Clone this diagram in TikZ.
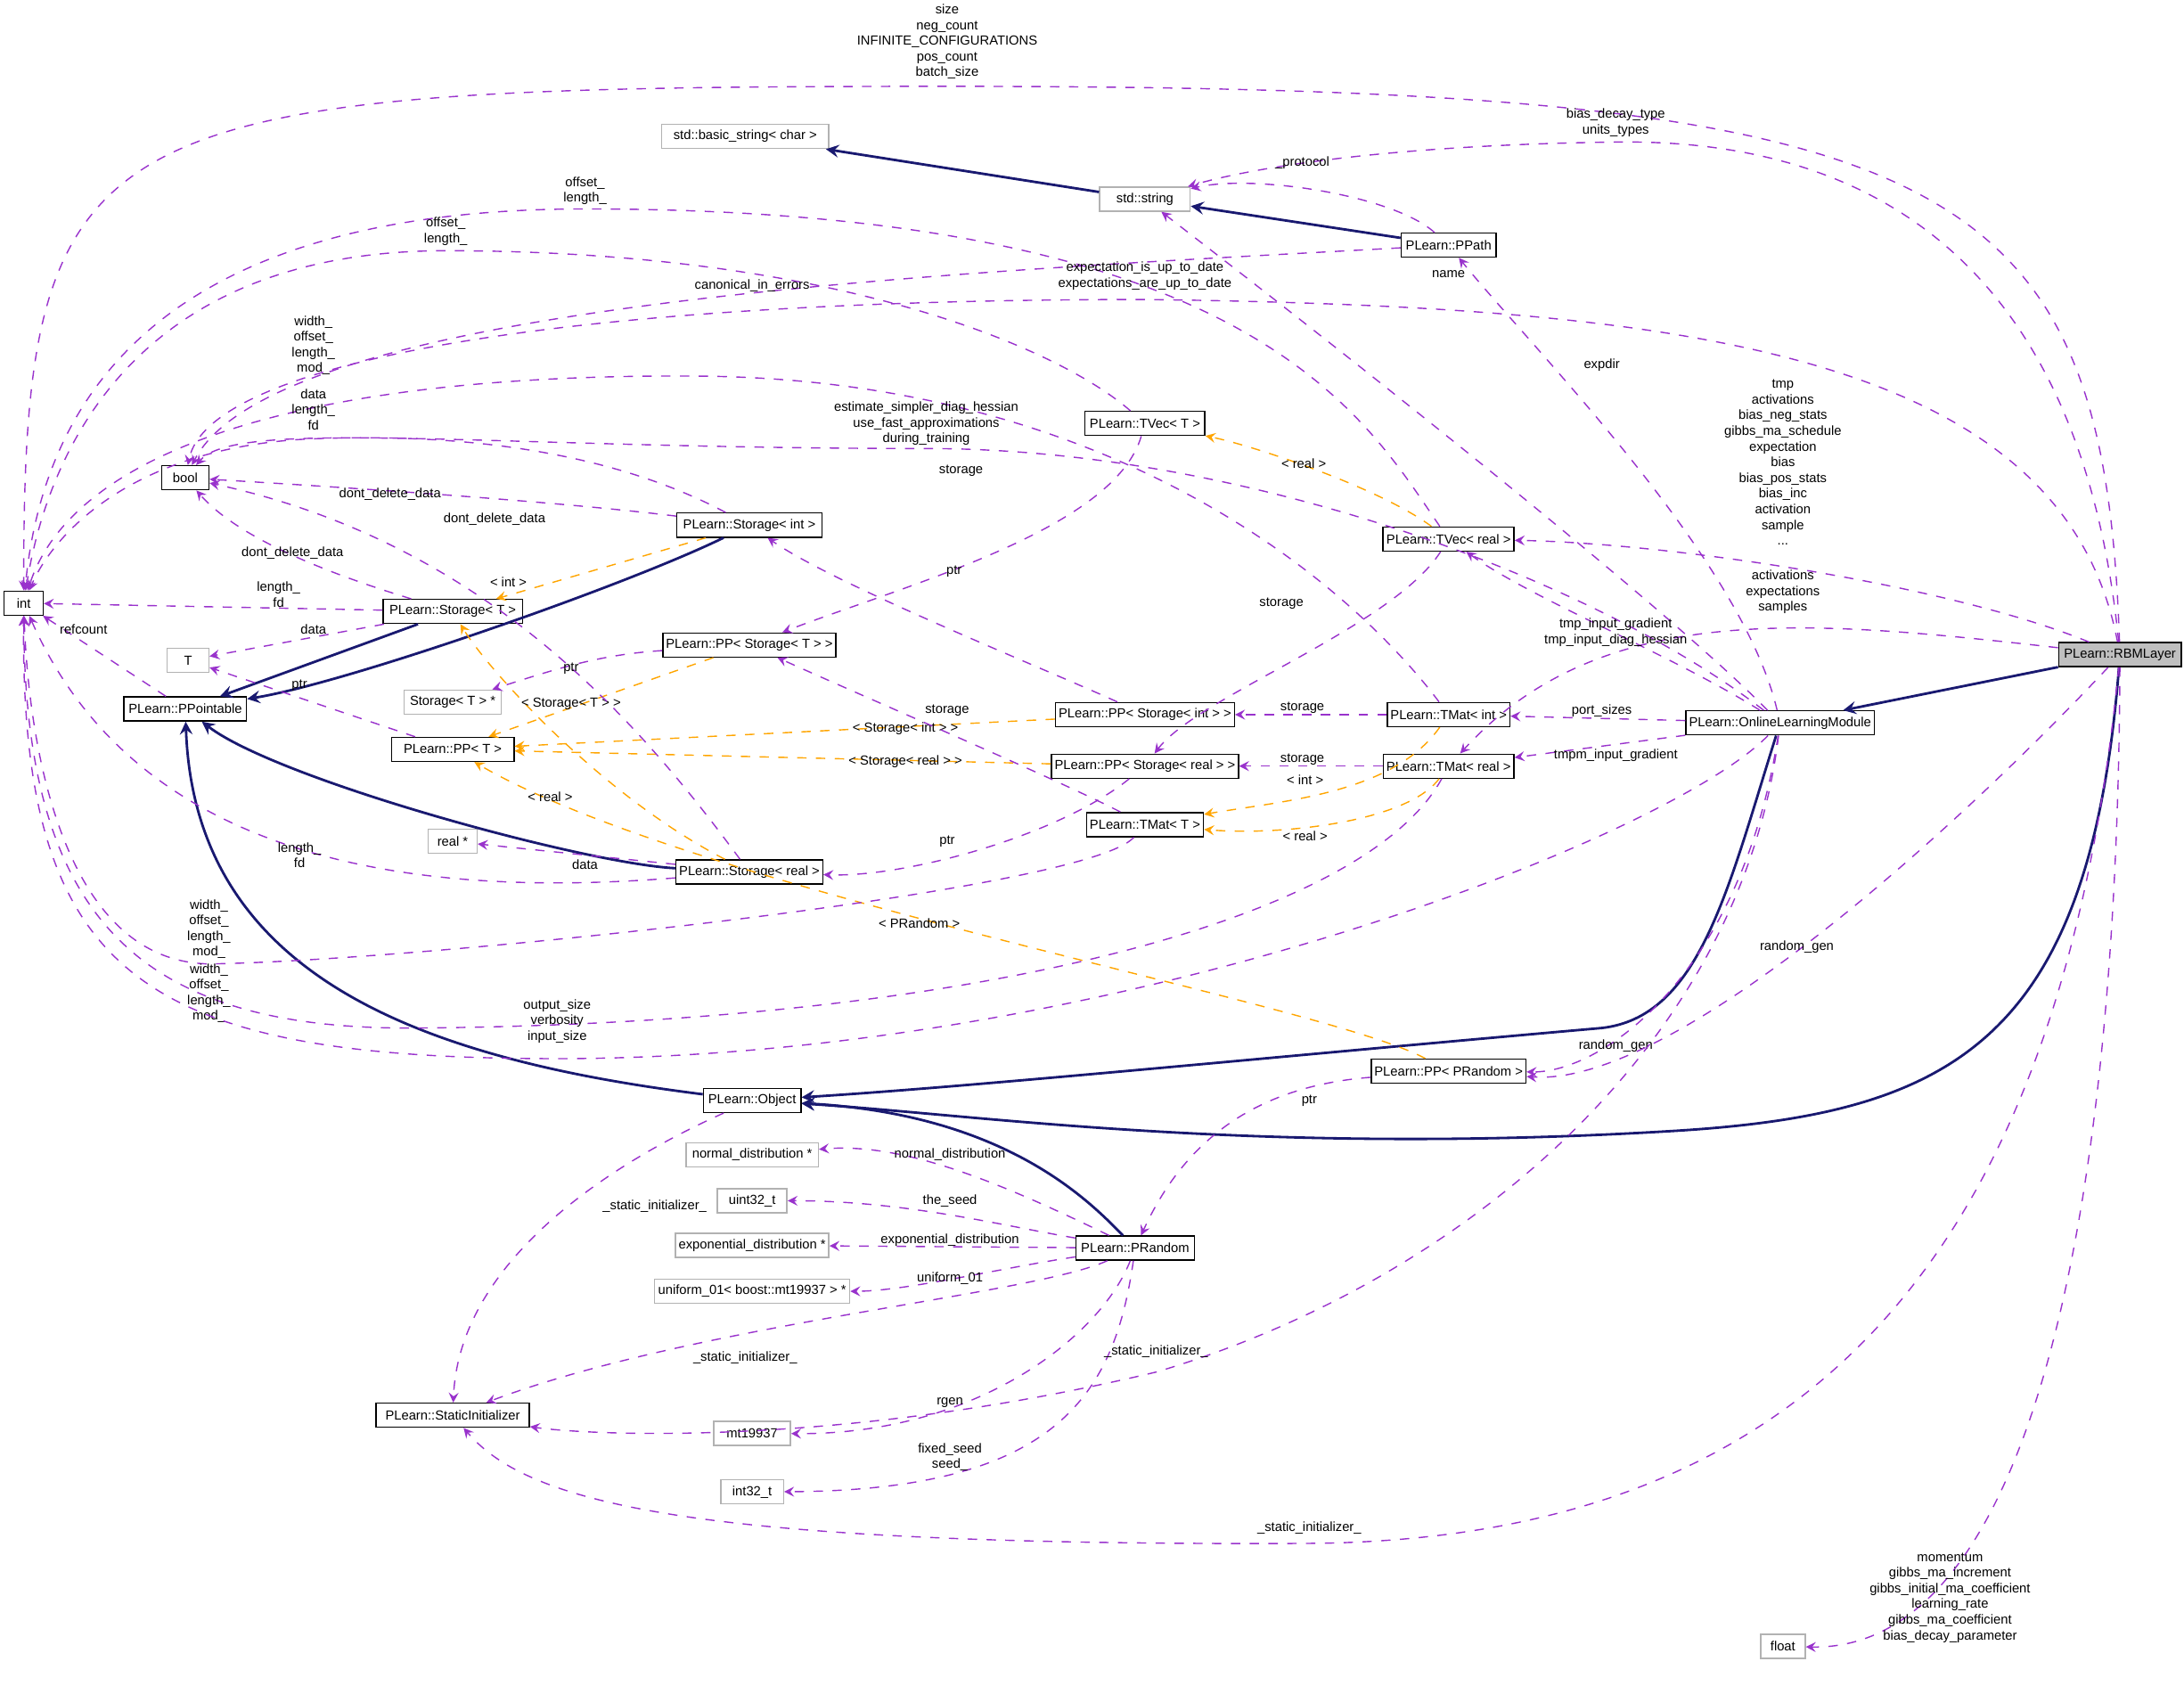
\documentclass[tikz,border=0pt]{standalone}
\usepackage{fontspec}
\setmainfont{Liberation Sans}
\usetikzlibrary{arrows}
\definecolor{inhcol}{RGB}{25,25,112}
\definecolor{usecol}{RGB}{153,50,204}
\definecolor{tplcol}{RGB}{255,165,0}
\tikzset{
  cls/.style={draw=black,fill=white,font=\fontsize{4.2}{5}\selectfont,minimum height=0.27cm,inner sep=1pt},
  ext/.style={cls,draw=gray!60},
  wd/.style={minimum width=#1*0.1563mm},
  inh/.style={->,>=stealth,draw=inhcol,thick},
  use/.style={->,>=stealth,draw=usecol,dashed},
  tpl/.style={->,>=stealth,draw=tplcol,dashed},
  lbl/.style={font=\fontsize{4.2}{5}\selectfont,align=center,inner sep=0pt}
}
\begin{document}
\begin{tikzpicture}[x=0.01563cm,y=-0.01563cm]
\useasboundingbox (0,0) rectangle (1568,1210);
% classes
\node[cls,wd=28] (int) at (17,433) {int};
\node[cls,wd=34] (bool) at (133,343) {bool};
\node[ext,wd=30] (T) at (135,474) {T};
\node[cls,wd=88] (ppointable) at (133,509) {PLearn::PPointable};
\node[cls,wd=88] (ppt) at (325,538) {PLearn::PP< T >};
\node[ext,wd=70] (stTp) at (325,504) {Storage< T > *};
\node[ext,wd=35] (realp) at (325,604) {real *};
\node[cls,wd=100] (stt) at (325,439) {PLearn::Storage< T >};
\node[cls,wd=104] (stint) at (538,377) {PLearn::Storage< int >};
\node[cls,wd=120] (ppst) at (538,463) {PLearn::PP< Storage< T > >};
\node[cls,wd=104] (streal) at (538,626) {PLearn::Storage< real >};
\node[cls,wd=86] (tvect) at (822,304) {PLearn::TVec< T >};
\node[cls,wd=124] (ppsi) at (822,513) {PLearn::PP< Storage< int > >};
\node[cls,wd=128] (ppsr) at (822,550) {PLearn::PP< Storage< real > >};
\node[cls,wd=84] (tmatt) at (822,592) {PLearn::TMat< T >};
\node[ext,wd=120] (basic) at (535,98) {std::basic\_string< char >};
\node[ext,wd=65] (string) at (822,143) {std::string};
\node[cls,wd=68] (ppath) at (1040,176) {PLearn::PPath};
\node[cls,wd=94] (tvecr) at (1040,387) {PLearn::TVec< real >};
\node[cls,wd=88] (tmati) at (1040,513) {PLearn::TMat< int >};
\node[cls,wd=92] (tmatr) at (1040,550) {PLearn::TMat< real >};
\node[cls,wd=130] (olm) at (1278,519) {PLearn::OnlineLearningModule};
\node[cls,wd=88,fill=gray!50] (rbm) at (1522,470) {PLearn::RBMLayer};
\node[cls,wd=70] (object) at (540,790) {PLearn::Object};
\node[cls,wd=110] (pppr) at (1040,769) {PLearn::PP< PRandom >};
\node[ext,wd=95] (normal) at (540,829) {normal\_distribution *};
\node[ext,wd=50] (uint) at (540,862) {uint32\_t};
\node[ext,wd=110] (expo) at (540,894) {exponential\_distribution *};
\node[ext,wd=140] (unif) at (540,927) {uniform\_01< boost::mt19937 > *};
\node[cls,wd=85] (prandom) at (815,896) {PLearn::PRandom};
\node[ext,wd=55] (mt) at (540,1029) {mt19937};
\node[ext,wd=45] (intt) at (540,1071) {int32\_t};
\node[cls,wd=110] (static) at (325,1016) {PLearn::StaticInitializer};
\node[ext,wd=32] (float) at (1280,1182) {float};
% inheritance
\draw[inh] (string) -- (basic);
\draw[inh] (ppath) -- (string);
\draw[inh] (stt) -- (ppointable);
\draw[inh] (stint) .. controls (450,420) and (250,490) .. (ppointable);
\draw[inh] (streal) .. controls (420,620) and (200,560) .. (ppointable);
\draw[inh] (object) .. controls (300,760) and (140,700) .. (ppointable);
\draw[inh] (prandom) .. controls (780,860) and (720,800) .. (object);
\draw[inh] (olm) .. controls (1240,640) and (1220,730) .. (1150,738) .. controls (900,760) and (700,780) .. (object);
\draw[inh] (rbm) .. controls (1500,750) and (1400,800) .. (1200,812) .. controls (900,830) and (700,800) .. (object);
\draw[inh] (rbm) -- (olm);
% templates
\draw[tpl] (ppsi) -- (ppt);
\draw[tpl] (ppsr) -- (ppt);
\draw[tpl] (ppst) -- (ppt);
\draw[tpl] (pppr) .. controls (950,720) and (500,640) .. (ppt);
\draw[tpl] (stint) -- (stt);
\draw[tpl] (streal) .. controls (430,570) and (350,480) .. (stt);
\draw[tpl] (tvecr) .. controls (990,350) and (900,320) .. (tvect);
\draw[tpl] (tmati) .. controls (1000,570) and (920,575) .. (tmatt);
\draw[tpl] (tmatr) .. controls (1010,590) and (920,600) .. (tmatt);
\node[lbl] at (650,523) {< Storage< int > >};
\node[lbl] at (650,547) {< Storage< real > >};
\node[lbl] at (410,505) {< Storage< T > >};
\node[lbl] at (660,663) {< PRandom >};
\node[lbl] at (365,418) {< int >};
\node[lbl] at (395,572) {< real >};
\node[lbl] at (936,333) {< real >};
\node[lbl] at (937,560) {< int >};
\node[lbl] at (937,600) {< real >};
% usage
\draw[use] (rbm) .. controls (1510,120) and (1400,62) .. (680,62) .. controls (60,62) and (17,80) .. (int);
\node[lbl] at (680,30) {size\\neg\_count\\INFINITE\_CONFIGURATIONS\\pos\_count\\batch\_size};
\draw[use] (rbm) .. controls (1490,150) and (1300,100) .. (1160,102) .. controls (1000,104) and (900,120) .. (string);
\node[lbl] at (1160,88) {bias\_decay\_type\\units\_types};
\draw[use] (ppath) .. controls (1000,140) and (900,125) .. (string);
\node[lbl] at (935,117) {\_protocol};
\draw[use] (tvecr) .. controls (980,300) and (900,150) .. (420,150) .. controls (100,150) and (30,300) .. (int);
\node[lbl] at (420,137) {offset\_\\length\_};
\draw[use] (tvect) .. controls (760,250) and (600,180) .. (320,180) .. controls (100,180) and (35,320) .. (int);
\node[lbl] at (320,166) {offset\_\\length\_};
\draw[use] (ppath) .. controls (700,195) and (200,215) .. (bool);
\node[lbl] at (540,205) {canonical\_in\_errors};
\draw[use] (rbm) .. controls (1480,250) and (1200,220) .. (822,215) .. controls (400,215) and (150,260) .. (bool);
\node[lbl] at (822,198) {expectation\_is\_up\_to\_date\\expectations\_are\_up\_to\_date};
\draw[use] (tmati) .. controls (970,420) and (800,272) .. (500,270) .. controls (200,268) and (50,330) .. (int);
\node[lbl] at (225,248) {width\_\\offset\_\\length\_\\mod\_};
\draw[use] (olm) .. controls (1150,420) and (900,322) .. (665,322) .. controls (350,322) and (170,300) .. (bool);
\node[lbl] at (665,304) {estimate\_simpler\_diag\_hessian\\use\_fast\_approximations\\during\_training};
\draw[use] (stint) .. controls (450,330) and (350,310) .. (225,315) .. controls (100,320) and (40,380) .. (int);
\node[lbl] at (225,294) {data\\length\_\\fd};
\draw[use] (stint) .. controls (400,360) and (250,350) .. (bool);
\node[lbl] at (280,355) {dont\_delete\_data};
\draw[use] (stt) .. controls (230,410) and (170,385) .. (bool);
\node[lbl] at (210,397) {dont\_delete\_data};
\draw[use] (streal) .. controls (460,520) and (350,390) .. (bool);
\node[lbl] at (355,373) {dont\_delete\_data};
\draw[use] (stt) -- (int);
\node[lbl] at (200,427) {length\_\\fd};
\draw[use] (stt) -- (T);
\node[lbl] at (225,452) {data};
\draw[use] (ppointable) -- (int);
\node[lbl] at (60,452) {refcount};
\draw[use] (ppt) -- (T);
\node[lbl] at (215,492) {ptr};
\draw[use] (ppst) .. controls (430,470) and (400,480) .. (stTp);
\node[lbl] at (410,480) {ptr};
\draw[use] (streal) -- (realp);
\node[lbl] at (420,621) {data};
\draw[use] (streal) .. controls (300,645) and (100,620) .. (int);
\node[lbl] at (215,614) {length\_\\fd};
\draw[use] (tmatt) .. controls (780,640) and (300,690) .. (150,692) .. controls (40,690) and (20,520) .. (int);
\node[lbl] at (150,667) {width\_\\offset\_\\length\_\\mod\_};
\draw[use] (tmatr) .. controls (980,660) and (700,735) .. (300,738) .. controls (100,740) and (18,660) .. (int);
\node[lbl] at (150,713) {width\_\\offset\_\\length\_\\mod\_};
\draw[use] (olm) .. controls (1200,600) and (800,760) .. (400,760) .. controls (100,760) and (15,700) .. (int);
\node[lbl] at (400,733) {output\_size\\verbosity\\input\_size};
\draw[use] (tvect) .. controls (800,380) and (650,420) .. (ppst);
\node[lbl] at (690,338) {storage};
\draw[use] (ppsi) .. controls (750,480) and (600,420) .. (stint);
\node[lbl] at (685,410) {ptr};
\draw[use] (tvecr) .. controls (1000,450) and (860,500) .. (ppsr);
\node[lbl] at (920,433) {storage};
\draw[use] (tmati) -- (ppsi);
\node[lbl] at (935,508) {storage};
\draw[use] (tmatr) -- (ppsr);
\node[lbl] at (935,545) {storage};
\draw[use] (tmatt) .. controls (760,560) and (620,500) .. (ppst);
\node[lbl] at (680,510) {storage};
\draw[use] (ppsr) .. controls (760,600) and (650,630) .. (streal);
\node[lbl] at (680,604) {ptr};
\draw[use] (olm) .. controls (1250,400) and (1100,250) .. (ppath);
\node[lbl] at (1150,262) {expdir};
\draw[use] (olm) .. controls (1200,440) and (1000,280) .. (string);
\node[lbl] at (1040,197) {name};
\draw[use] (rbm) .. controls (1400,420) and (1200,390) .. (tvecr);
\node[lbl] at (1280,332) {tmp\\activations\\bias\_neg\_stats\\gibbs\_ma\_schedule\\expectation\\bias\\bias\_pos\_stats\\bias\_inc\\activation\\sample\\...};
\draw[use] (rbm) .. controls (1300,445) and (1150,430) .. (tmatr);
\node[lbl] at (1280,425) {activations\\expectations\\samples};
\draw[use] (olm) .. controls (1200,470) and (1100,430) .. (tvecr);
\node[lbl] at (1160,454) {tmp\_input\_gradient\\tmp\_input\_diag\_hessian};
\draw[use] (olm) -- (tmati);
\node[lbl] at (1150,510) {port\_sizes};
\draw[use] (olm) -- (tmatr);
\node[lbl] at (1160,542) {tmpm\_input\_gradient};
\draw[use] (olm) .. controls (1250,700) and (1150,770) .. (pppr);
\node[lbl] at (1160,751) {random\_gen};
\draw[use] (rbm) .. controls (1400,600) and (1200,780) .. (pppr);
\node[lbl] at (1290,680) {random\_gen};
\draw[use] (pppr) .. controls (900,780) and (850,820) .. (prandom);
\node[lbl] at (940,790) {ptr};
\draw[use] (object) .. controls (450,830) and (330,900) .. (static);
\node[lbl] at (470,866) {\_static\_initializer\_};
\draw[use] (prandom) .. controls (720,850) and (650,820) .. (normal);
\node[lbl] at (682,829) {normal\_distribution};
\draw[use] (prandom) .. controls (720,880) and (650,862) .. (uint);
\node[lbl] at (682,862) {the\_seed};
\draw[use] (prandom) -- (expo);
\node[lbl] at (682,890) {exponential\_distribution};
\draw[use] (prandom) .. controls (720,910) and (650,927) .. (unif);
\node[lbl] at (682,918) {uniform\_01};
\draw[use] (prandom) .. controls (740,930) and (500,950) .. (static);
\node[lbl] at (535,975) {\_static\_initializer\_};
\draw[use] (prandom) .. controls (790,960) and (700,1030) .. (mt);
\node[lbl] at (682,1007) {rgen};
\draw[use] (prandom) .. controls (800,1000) and (760,1070) .. (intt);
\node[lbl] at (682,1046) {fixed\_seed\\seed\_};
\draw[use] (olm) .. controls (1250,750) and (1050,920) .. (830,985) .. controls (600,1040) and (420,1030) .. (static);
\node[lbl] at (830,970) {\_static\_initializer\_};
\draw[use] (rbm) .. controls (1480,900) and (1300,1105) .. (940,1108) .. controls (500,1110) and (380,1080) .. (static);
\node[lbl] at (940,1097) {\_static\_initializer\_};
\draw[use] (rbm) .. controls (1520,900) and (1450,1185) .. (float);
\node[lbl] at (1400,1147) {momentum\\gibbs\_ma\_increment\\gibbs\_initial\_ma\_coefficient\\learning\_rate\\gibbs\_ma\_coefficient\\bias\_decay\_parameter};
\end{tikzpicture}
\end{document}
